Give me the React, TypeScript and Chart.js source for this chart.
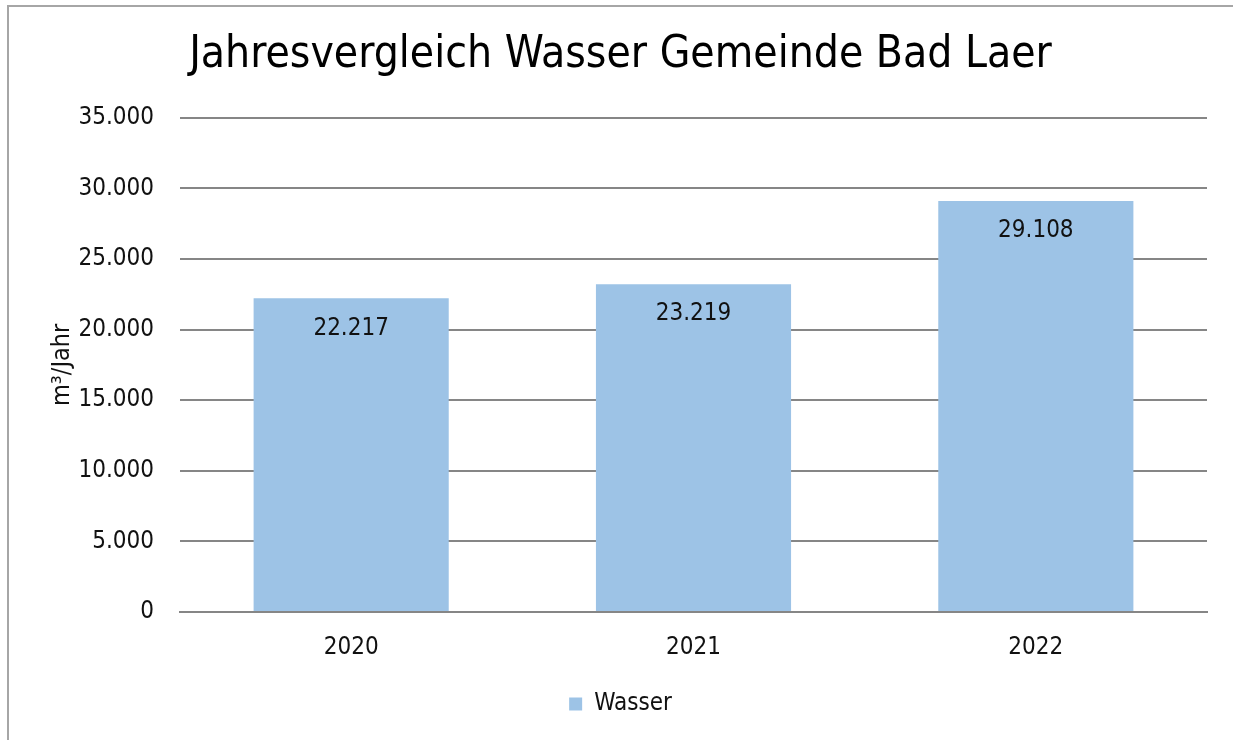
import React, { useEffect, useRef } from "react";
import { Chart, registerables } from "chart.js";

Chart.register(...registerables);

const categories: string[] = ["2020", "2021", "2022"];
const wasserValues: number[] = [22217, 23219, 29108];
const seriesLabel = "Wasser";
const chartTitle = "Jahresvergleich Wasser Gemeinde Bad Laer";
const yAxisTitle = "m³/Jahr";

const FONT = "'Liberation Sans Narrow', 'DejaVu Sans Condensed', 'Liberation Sans', sans-serif";
const BAR_COLOR = "#9DC3E6";
const GRID_COLOR = "#868686";

const fmt = (v: number) => String(Math.round(v)).replace(/\B(?=(\d{3})+(?!\d))/g, ".");

const dataLabelPlugin = {
  id: "dataLabels",
  afterDatasetsDraw(chart: any) {
    const ctx = chart.ctx;
    const meta = chart.getDatasetMeta(0);
    ctx.save();
    ctx.font = `24px ${FONT}`;
    ctx.fillStyle = "#111";
    ctx.textAlign = "center";
    ctx.textBaseline = "middle";
    meta.data.forEach((bar: any, i: number) => {
      const v = chart.data.datasets[0].data[i] as number;
      ctx.fillText(fmt(v), bar.x, bar.y + 30);
    });
    ctx.restore();
  },
};

export default function App() {
  const ref = useRef<HTMLCanvasElement | null>(null);
  useEffect(() => {
    document.body.style.overflow = "hidden";
    if (!ref.current) return;
    const chart = new Chart(ref.current, {
      type: "bar",
      data: {
        labels: categories,
        datasets: [
          {
            label: seriesLabel,
            data: wasserValues,
            backgroundColor: BAR_COLOR,
            borderWidth: 0,
            barPercentage: 0.57,
            categoryPercentage: 1,
          },
        ],
      },
      options: {
        animation: false,
        responsive: false,
        maintainAspectRatio: false,
        layout: { padding: { left: 34, right: 26, top: 0, bottom: 14 } },
        plugins: {
          title: {
            display: true,
            text: chartTitle,
            color: "#000",
            font: { family: FONT, size: 44, weight: "normal" },
            padding: { top: 29, bottom: 36 },
          },
          legend: {
            display: true,
            position: "bottom",
            labels: {
              color: "#111",
              font: { family: FONT, size: 24 },
              boxWidth: 13,
              boxHeight: 13,
              padding: 10,
            },
          },
          tooltip: { enabled: false },
        },
        scales: {
          x: {
            grid: { display: false, drawTicks: false },
            border: { display: true, color: GRID_COLOR, width: 2 },
            ticks: { color: "#111", font: { family: FONT, size: 24 }, padding: 21 },
            afterFit: (s: any) => {
              s.height = 70;
            },
          },
          y: {
            min: 0,
            max: 35000,
            ticks: {
              stepSize: 5000,
              color: "#111",
              font: { family: FONT, size: 24 },
              padding: 26,
              callback: (v: any) => fmt(Number(v)),
            },
            grid: { color: GRID_COLOR, lineWidth: 2, drawTicks: false },
            border: { display: false },
            title: {
              display: true,
              text: yAxisTitle,
              color: "#111",
              font: { family: FONT, size: 25 },
              padding: { top: 13, bottom: 0 },
            },
            afterFit: (s: any) => {
              s.width = 146;
            },
          },
        },
      },
      plugins: [dataLabelPlugin],
    });
    return () => chart.destroy();
  }, []);

  return (
    <div style={{ position: "absolute", left: 0, top: 0, width: 1233, height: 740, background: "#fff", overflow: "hidden" }}>
      <div
        style={{
          position: "absolute",
          left: 7,
          top: 5,
          width: 1240,
          height: 760,
          borderLeft: "2px solid #a6a6a6",
          borderTop: "2px solid #a6a6a6",
          boxSizing: "border-box",
        }}
      />
      <canvas ref={ref} width={1233} height={740} style={{ position: "absolute", left: 0, top: 0 }} />
    </div>
  );
}
